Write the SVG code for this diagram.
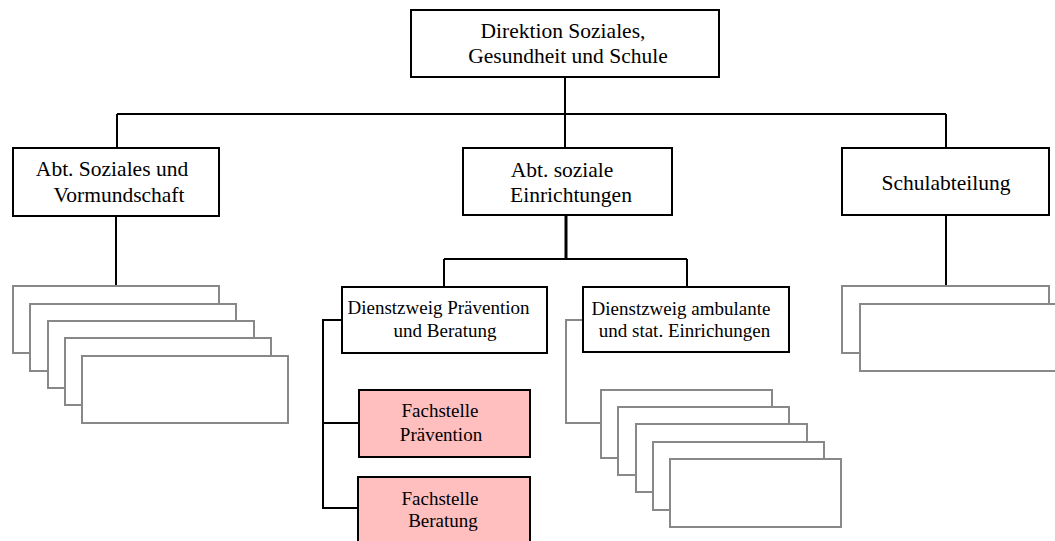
<svg xmlns="http://www.w3.org/2000/svg" width="1055" height="541" viewBox="0 0 1055 541">
<style>
.box{fill:#fff;stroke:#000;stroke-width:2}
.pink{fill:#ffbfbf;stroke:#000;stroke-width:2}
.ghost{fill:#fff;stroke:#888;stroke-width:2}
.ln{fill:none;stroke:#000;stroke-width:2}
.gln{fill:none;stroke:#888;stroke-width:2}
text{font-family:'Liberation Serif','Times New Roman',Times,'DejaVu Serif',serif;fill:#000;text-anchor:middle}
.t1{font-size:21.5px}
.t2{font-size:19px}
</style>
<rect width="1055" height="541" fill="#fff"/>
<g id="connectors">
<path class="ln" d="M565 77V114M117 114H946M117 114V148M565 114V148M946 114V148"/>
<path class="ln" d="M116 216V286M946 215V286"/>
<path class="ln" d="M566 215V259" style="stroke-width:3"/>
<path class="ln" d="M444 259H687M444 259V287M687 259V287"/>
<path class="ln" d="M342 320H323V508H358M323 423H359"/>
<path class="gln" d="M583 320H566V423H601"/>
</g>
<g id="n-direktion">
<rect class="box" x="411" y="10" width="308" height="67"/>
<text class="t1" x="563" y="38" font-family="Liberation Serif, serif">Direktion Soziales,</text>
<text class="t1" x="568" y="63" font-family="Liberation Serif, serif">Gesundheit und Schule</text>
</g>
<g id="n-abt-soziales">
<rect class="box" x="13" y="148" width="206" height="68"/>
<text class="t1" x="112" y="176">Abt. Soziales und</text>
<text class="t1" x="119" y="202">Vormundschaft</text>
</g>
<g id="n-abt-einrichtungen">
<rect class="box" x="463" y="148" width="209" height="67"/>
<text class="t1" x="562" y="177">Abt. soziale</text>
<text class="t1" x="571" y="202">Einrichtungen</text>
</g>
<g id="n-schulabteilung">
<rect class="box" x="842" y="148" width="207" height="67"/>
<text class="t1" x="946" y="190">Schulabteilung</text>
</g>
<g id="n-dz-praevention">
<rect class="box" x="342" y="287" width="205" height="66"/>
<text class="t2" x="438.5" y="314">Dienstzweig Prävention</text>
<text class="t2" x="445" y="337">und Beratung</text>
</g>
<g id="n-dz-ambulant">
<rect class="box" x="583" y="287" width="206" height="65"/>
<text class="t2" x="681" y="315">Dienstzweig ambulante</text>
<text class="t2" x="684.5" y="337">und stat. Einrichungen</text>
</g>
<g id="n-fs-praevention">
<rect class="pink" x="359" y="390" width="171" height="67"/>
<text class="t2" x="440" y="417">Fachstelle</text>
<text class="t2" x="441" y="441">Prävention</text>
</g>
<g id="n-fs-beratung">
<rect class="pink" x="358" y="477" width="172" height="70"/>
<text class="t2" x="440" y="505">Fachstelle</text>
<text class="t2" x="443" y="527">Beratung</text>
</g>
<g id="n-stack-left">
<rect class="ghost" x="13" y="286" width="206" height="67"/>
<rect class="ghost" x="30" y="304" width="206" height="67"/>
<rect class="ghost" x="48" y="321" width="206" height="67"/>
<rect class="ghost" x="65" y="338" width="206" height="67"/>
<rect class="ghost" x="82" y="356" width="206" height="67"/>
</g>
<g id="n-stack-mid">
<rect class="ghost" x="601" y="390" width="171" height="68"/>
<rect class="ghost" x="618" y="407" width="171" height="68"/>
<rect class="ghost" x="636" y="424" width="171" height="68"/>
<rect class="ghost" x="653" y="442" width="171" height="68"/>
<rect class="ghost" x="670" y="459" width="171" height="68"/>
</g>
<g id="n-stack-right">
<rect class="ghost" x="842" y="286" width="207" height="67"/>
<rect class="ghost" x="860" y="304" width="207" height="67"/>
</g>
</svg>
